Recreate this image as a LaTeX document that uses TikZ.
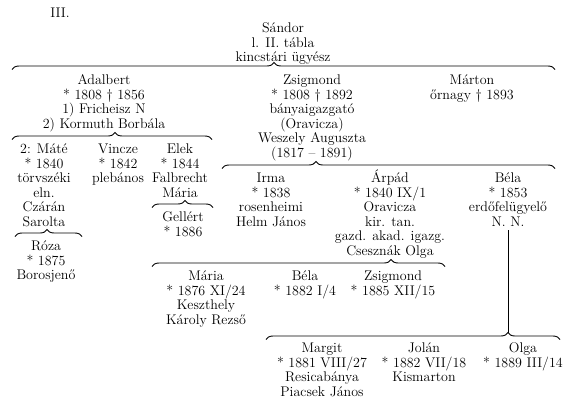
\documentclass[tikz,border=0pt]{standalone}
\usepackage{tikz}
\usetikzlibrary{decorations.pathreplacing}
\newcommand{\hstrut}{\rule{0pt}{13.5pt}}
\tikzset{
  gen/.style={align=center, anchor=north, inner sep=0pt, font=\fontsize{14}{14.5}\selectfont},
  kin/.style={decorate, decoration={brace, amplitude=7pt, aspect=#1}, line width=0.9pt},
  link/.style={line width=0.9pt}
}

\begin{document}
\begin{tikzpicture}[x=1pt, y=-1pt]
  \useasboundingbox (0,0) rectangle (568,405);
  \node[gen] (tab) at (60,4) {\hstrut III.};
  \node[gen] (sandor) at (283,19) {\hstrut S\'andor\\l. II. t\'abla\\kincst\'ari \"ugy\'esz};
  % brace ends, line y + 3.5
  \coordinate (l1a) at (12,69.5);   \coordinate (l1b) at (555,69.5);
  \coordinate (l2a) at (12,139.5);  \coordinate (l2b) at (212,139.5);
  \coordinate (l3a) at (222,168.5); \coordinate (l3b) at (555,168.5);
  \coordinate (l4a) at (15,236.5);  \coordinate (l4b) at (82,236.5);
  \coordinate (l5a) at (152,207.5); \coordinate (l5b) at (213,207.5);
  \coordinate (l7a) at (152,266.5); \coordinate (l7b) at (445,266.5);
  \coordinate (l8a) at (266,339.5); \coordinate (l8b) at (560,339.5);
  \coordinate (l8tip) at (508,332.5);
  % children of Sandor
  \node[gen] (adalbert) at (104,71) {\hstrut Adalbert\\* 1808 † 1856\\1) Fricheisz N\\2) Kormuth Borb\'ala};
  \node[gen] (zsigmond) at (312,71) {\hstrut Zsigmond\\* 1808 † 1892\\b\'anyaigazgat\'o\\(Oravicza)\\Weszely Auguszta\\(1817 – 1891)};
  \node[gen] (marton) at (472,71) {\hstrut M\'arton\\őrnagy † 1893};
  % children of Adalbert
  \node[gen] (mate) at (44,140) {\hstrut 2: M\'at\'e\\* 1840\\t\"orvsz\'eki\\eln.\\Cz\'ar\'an\\Sarolta};
  \node[gen] (vincze) at (118,140) {\hstrut Vincze\\* 1842\\pleb\'anos};
  \node[gen] (elek) at (180,140) {\hstrut Elek\\* 1844\\Falbrecht\\M\'aria};
  \node[gen] (roza) at (46,237) {\hstrut R\'oza\\* 1875\\Borosjenő};
  \node[gen] (gellert) at (183,208) {\hstrut Gell\'ert\\* 1886};
  % children of Zsigmond
  \node[gen] (irma) at (271,169) {\hstrut Irma\\* 1838\\rosenheimi\\Helm J\'anos};
  \node[gen] (arpad) at (390,169) {\hstrut \'Arp\'ad\\* 1840 IX/1\\Oravicza\\kir. tan.\\gazd. akad. igazg.\\Cseszn\'ak Olga};
  \node[gen] (bela) at (508,169) {\hstrut B\'ela\\* 1853\\erdőfel\"ugyelő\\N. N.};
  % grandchildren
  \node[gen] (maria) at (206,267) {\hstrut M\'aria\\* 1876 XI/24\\Keszthely\\K\'aroly Rezső};
  \node[gen] (bela2) at (305,267) {\hstrut B\'ela\\* 1882 I/4};
  \node[gen] (zsigmond2) at (393,267) {\hstrut Zsigmond\\* 1885 XII/15};
  \node[gen] (margit) at (322,339) {\hstrut Margit\\* 1881 VIII/27\\Resicab\'anya\\Piacsek J\'anos};
  \node[gen] (jolan) at (424,339) {\hstrut Jol\'an\\* 1882 VII/18\\Kismarton};
  \node[gen] (olga) at (523,339) {\hstrut Olga\\* 1889 III/14};
  % braces
  \draw[kin=0.4825] (l1a) -- (l1b);
  \draw[kin=0.515] (l2a) -- (l2b);
  \draw[kin=0.282] (l3a) -- (l3b);
  \draw[kin=0.478] (l4a) -- (l4b);
  \draw[kin=0.54] (l5a) -- (l5b);
  \draw[kin=0.816] (l7a) -- (l7b);
  \draw[kin=0.823] (l8a) -- (l8b);
  \draw[link] ([yshift=-4pt]bela.south) -- (l8tip);
\end{tikzpicture}
\end{document}
